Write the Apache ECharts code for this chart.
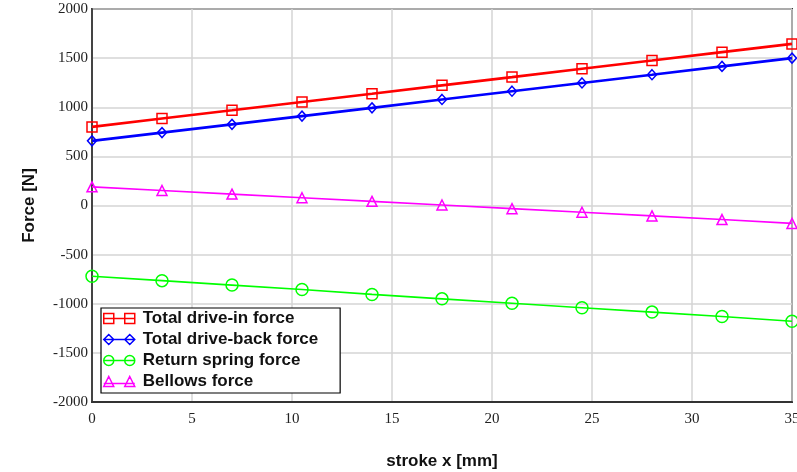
<!DOCTYPE html>
<html>
<head>
<meta charset="utf-8">
<script src="https://cdn.jsdelivr.net/npm/echarts@6/dist/echarts.min.js"></script>
<style>
html,body{margin:0;padding:0;background:#fff;}
#chart{width:797px;height:472px;}
</style>
</head>
<body>
<div id="chart"></div>
<script>
// stroke positions [mm]
const strokeX = [0, 3.5, 7, 10.5, 14, 17.5, 21, 24.5, 28, 31.5, 35];
// forces [N]
const driveIn   = [800, 885, 969, 1054, 1138, 1223, 1307, 1392, 1476, 1561, 1645];
const driveBack = [658, 742, 826, 910, 994, 1079, 1163, 1247, 1331, 1416, 1500];
const spring    = [-720, -765, -810, -855, -905, -950, -995, -1040, -1085, -1130, -1178];
const bellows   = [190, 153, 116, 79, 42, 5, -32, -69, -106, -143, -182];

const seriesNames = ['Total drive-in force', 'Total drive-back force', 'Return spring force', 'Bellows force'];
const xTicks = { min: 0, max: 35, interval: 5 };
const yTicks = { min: -2000, max: 2000, interval: 500 };

const colors = ['#ff0000', '#0000ff', '#00ff00', '#ff00ff'];
const symbols = ['rect', 'diamond', 'circle', 'triangle'];
const symbolSizes = [[10, 10], [9, 10], [12, 12], [10, 10]];
const lineWidths = [2.6, 2.6, 1.6, 1.6];
const legendIcons = [
  'path://M0,0H10V10H0Z M21,0H31V10H21Z M0,5H31',
  'path://M5,0L10,5L5,10L0,5Z M26,0L31,5L26,10L21,5Z M0,5H31',
  'path://M0,5A5,5 0 1 1 10,5A5,5 0 1 1 0,5Z M21,5A5,5 0 1 1 31,5A5,5 0 1 1 21,5Z M0,5H31',
  'path://M5,0L10,10L0,10Z M26,0L31,10L21,10Z M0,7H31'
];
const allData = [driveIn, driveBack, spring, bellows];

const chart = echarts.init(document.getElementById('chart'), null, { renderer: 'canvas' });

const series = seriesNames.map((name, i) => ({
  name: name,
  type: 'line',
  data: strokeX.map((x, k) => [x, allData[i][k]]),
  symbol: symbols[i],
  symbolSize: symbolSizes[i],
  showAllSymbol: true,
  lineStyle: { color: colors[i], width: lineWidths[i] },
  itemStyle: { color: 'rgba(0,0,0,0)', borderColor: colors[i], borderWidth: 1.5 },
  emphasis: { disabled: true },
  animation: false,
  z: 3
}));

chart.setOption({
  animation: false,
  backgroundColor: '#fff',
  grid: {
    left: 92, right: 5, top: 9, bottom: 70,
    outerBoundsMode: 'none',
    containLabel: false,
    show: true, borderColor: '#333', borderWidth: 2, backgroundColor: 'transparent'
  },
  legend: {
    orient: 'vertical',
    left: 101, top: 308,
    padding: [2, 22, 3, 2],
    itemGap: 4,
    itemWidth: 31, itemHeight: 11,
    backgroundColor: '#fff',
    borderColor: '#000', borderWidth: 1.2,
    borderRadius: 0,
    selectedMode: false,
    textStyle: { fontFamily: 'Liberation Sans, Arial, sans-serif', fontWeight: 'bold', fontSize: 17, color: '#111', padding: [0, 0, 0, 3] },
    data: seriesNames.map((n, i) => ({
      name: n,
      icon: legendIcons[i],
      itemStyle: { color: 'rgba(0,0,0,0)', borderColor: colors[i], borderWidth: 1.5 }
    })),
    z: 10
  },
  xAxis: {
    type: 'value',
    min: xTicks.min, max: xTicks.max, interval: xTicks.interval,
    name: 'stroke x [mm]',
    nameLocation: 'middle',
    nameGap: 51,
    nameTextStyle: { fontFamily: 'Liberation Sans, Arial, sans-serif', fontWeight: 'bold', fontSize: 17, color: '#111' },
    axisLine: { show: true, onZero: false, lineStyle: { color: '#333', width: 2 } },
    axisTick: { show: false },
    axisLabel: { fontFamily: 'Liberation Serif, Times New Roman, serif', fontSize: 15, color: '#222', margin: 10, formatter: v => String(v) },
    splitLine: { show: true, lineStyle: { color: '#d4d4d4', width: 1.5 } }
  },
  yAxis: {
    type: 'value',
    min: yTicks.min, max: yTicks.max, interval: yTicks.interval,
    name: 'Force [N]',
    nameLocation: 'middle',
    nameGap: 54,
    nameTextStyle: { fontFamily: 'Liberation Sans, Arial, sans-serif', fontWeight: 'bold', fontSize: 17, color: '#111' },
    axisLine: { show: true, onZero: false, lineStyle: { color: '#444', width: 2 } },
    axisTick: { show: false },
    axisLabel: { fontFamily: 'Liberation Serif, Times New Roman, serif', fontSize: 15, color: '#222', margin: 4, formatter: v => String(v) },
    splitLine: { show: true, lineStyle: { color: '#d4d4d4', width: 1.5 } }
  },
  series: series
});
</script>
</body>
</html>
